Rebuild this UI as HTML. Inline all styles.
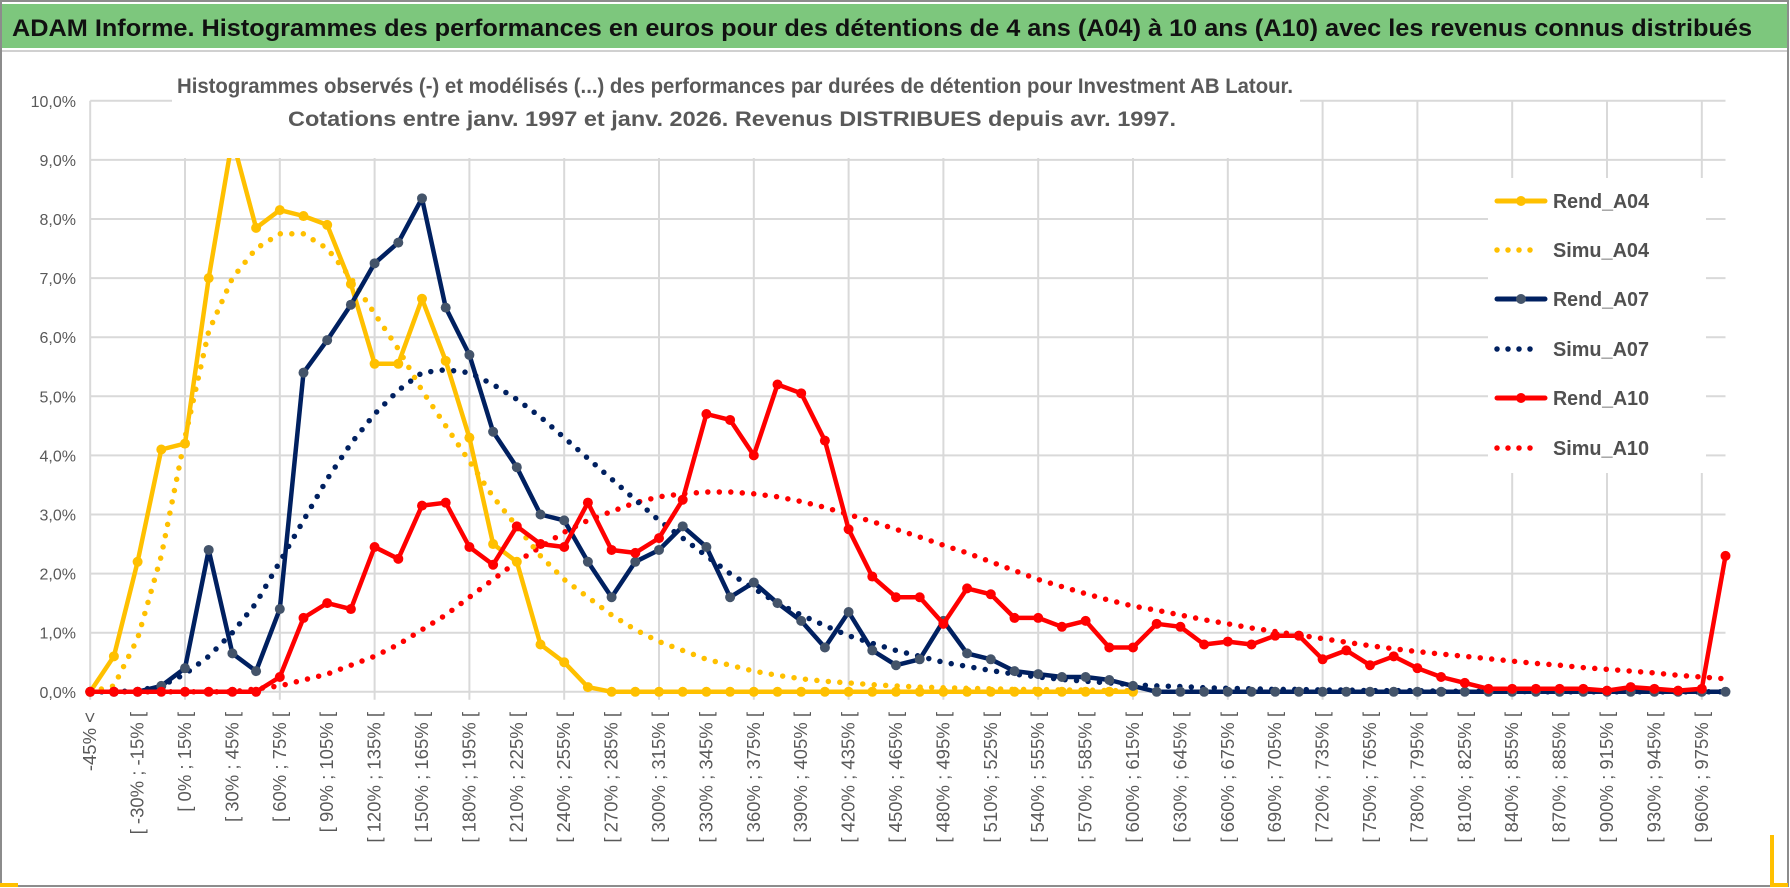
<!DOCTYPE html>
<html><head><meta charset="utf-8">
<style>
html,body{margin:0;padding:0;background:#fff;}
svg{display:block;font-family:"Liberation Sans",sans-serif;}
</style></head>
<body>
<svg id="chart" width="1790" height="888" viewBox="0 0 1790 888">
  <rect x="1" y="1" width="1787" height="885" fill="#fff" stroke="#8c8c8c" stroke-width="2"/>
  <rect x="2" y="4" width="1785" height="44" fill="#7dc77d"/>
  <line x1="2" y1="51" x2="1787" y2="51" stroke="#d0d0d0" stroke-width="2"/>
  <text x="12" y="36" font-size="24" font-weight="bold" fill="#111" textLength="1740" lengthAdjust="spacingAndGlyphs">ADAM Informe. Histogrammes des performances en euros pour des détentions de 4 ans (A04) à 10 ans (A10) avec les revenus connus distribués</text>
  <g id="grid"></g>
  <g id="series"></g>
  <rect x="172" y="64" width="1128" height="94" fill="#fff"/>
  <text x="177" y="93" font-size="21" font-weight="bold" fill="#595959" textLength="1116" lengthAdjust="spacingAndGlyphs">Histogrammes observés (-) et modélisés (...) des performances par durées de détention pour Investment AB Latour.</text>
  <text x="288" y="126" font-size="21" font-weight="bold" fill="#595959" textLength="888" lengthAdjust="spacingAndGlyphs">Cotations entre janv. 1997 et janv. 2026. Revenus DISTRIBUES depuis avr. 1997.</text>
  <g id="yticks"></g>
  <g id="xticks"></g>
  <g id="legend"></g>
  <rect x="0" y="883" width="18" height="4" fill="#ffc000"/>
  <rect x="1770" y="835" width="4" height="50" fill="#ffc000"/>
  <rect x="1770" y="883" width="18" height="4" fill="#ffc000"/>
</svg>
<script>
const categoriesCount = 70;
const yTickValues = [0,1,2,3,4,5,6,7,8,9,10];
const rendA04 = [0,0.6,2.2,4.1,4.2,7.0,9.35,7.85,8.15,8.05,7.9,6.9,5.55,5.55,6.65,5.6,4.3,2.5,2.2,0.8,0.5,0.08,0,0,0,0,0,0,0,0,0,0,0,0,0,0,0,0,0,0,0,0,0,0,0];
const simuA04 = [0,0.1,0.9,2.3,4.3,6.1,7.0,7.5,7.75,7.75,7.5,7.0,6.4,5.8,5.1,4.5,3.9,3.3,2.8,2.3,1.9,1.6,1.3,1.05,0.85,0.7,0.55,0.45,0.35,0.28,0.22,0.18,0.15,0.12,0.1,0.08,0.07,0.06,0.05,0.04,0.04,0.03,0.03,0.02,0.02];
const rendA07 = [0,0,0,0.1,0.4,2.4,0.65,0.35,1.4,5.4,5.95,6.55,7.25,7.6,8.35,6.5,5.7,4.4,3.8,3.0,2.9,2.2,1.6,2.2,2.4,2.8,2.45,1.6,1.85,1.5,1.2,0.75,1.35,0.7,0.45,0.55,1.2,0.65,0.55,0.35,0.3,0.25,0.25,0.2,0.1,0,0,0,0,0,0,0,0,0,0,0,0,0,0,0,0,0,0,0,0,0,0,0,0,0];
const simuA07 = [0,0,0.02,0.1,0.3,0.6,1.0,1.5,2.2,2.9,3.6,4.2,4.7,5.1,5.4,5.45,5.4,5.2,4.95,4.65,4.3,3.95,3.6,3.25,2.9,2.6,2.3,2.0,1.75,1.5,1.3,1.12,0.95,0.82,0.7,0.6,0.5,0.43,0.36,0.3,0.25,0.21,0.18,0.15,0.12,0.1,0.09,0.07,0.06,0.05,0.04,0.04,0.03,0.03,0.02,0.02,0.02,0.01,0.01,0.01,0.01,0,0,0,0,0,0,0,0,0];
const rendA10 = [0,0,0,0,0,0,0,0,0.25,1.25,1.5,1.4,2.45,2.25,3.15,3.2,2.45,2.15,2.8,2.5,2.45,3.2,2.4,2.35,2.6,3.25,4.7,4.6,4.0,5.2,5.05,4.25,2.75,1.95,1.6,1.6,1.15,1.75,1.65,1.25,1.25,1.1,1.2,0.75,0.75,1.15,1.1,0.8,0.85,0.8,0.95,0.95,0.55,0.7,0.45,0.6,0.4,0.25,0.15,0.05,0.05,0.05,0.05,0.05,0.02,0.08,0.05,0.02,0.05,2.3];
const simuA10 = [0,0,0,0,0,0,0,0.05,0.1,0.2,0.3,0.45,0.6,0.8,1.05,1.3,1.6,1.9,2.2,2.45,2.7,2.9,3.05,3.2,3.3,3.35,3.38,3.38,3.35,3.3,3.22,3.12,3.0,2.88,2.75,2.62,2.48,2.35,2.2,2.05,1.9,1.78,1.66,1.55,1.45,1.38,1.3,1.22,1.15,1.08,1.02,0.96,0.9,0.84,0.78,0.73,0.68,0.64,0.6,0.56,0.52,0.48,0.45,0.41,0.38,0.35,0.32,0.28,0.25,0.22];
const seriesNames = ["Rend_A04","Simu_A04","Rend_A07","Simu_A07","Rend_A10","Simu_A10"];

const NS = "http://www.w3.org/2000/svg";
const X0 = 90.2, DX = 23.7, Y0 = 691.8, DY = 59.1;
function xScale(i){ return X0 + i*DX; }
function yScale(v){ return Y0 - v*DY; }
function mk(tag, attrs, parent){ const e=document.createElementNS(NS,tag); for(const k in attrs) e.setAttribute(k,attrs[k]); parent.appendChild(e); return e; }

const grid = document.getElementById('grid');
const xEnd = xScale(categoriesCount-1);
yTickValues.forEach(v=>{
  const l = mk('line',{x1:X0,x2:xEnd,y1:yScale(v),y2:yScale(v),stroke:'#d9d9d9','stroke-width':2},grid);
  
  
});
for(let i=0;i<categoriesCount;i+=4){
  const l = mk('line',{x1:xScale(i),x2:xScale(i),y1:yScale(10),y2:Y0+8,stroke:'#d9d9d9','stroke-width':2},grid);
  
  
}
const yt = document.getElementById('yticks');
yTickValues.forEach(v=>{
  const t = mk('text',{x:76,y:yScale(v)+6,'text-anchor':'end','font-size':16,fill:'#595959'},yt);
  t.textContent = v.toFixed(1).replace('.',',')+'%';
  
  
});
const xt = document.getElementById('xticks');
for(let i=0;i<categoriesCount;i+=2){
  let lab;
  if(i===0) lab='-45% <';
  else { const a=-45+15*(i-1); lab='[ '+a+'% ; '+(a+15)+'% ['; }
  const x = xScale(i)+6, y = 712;
  const t = mk('text',{x:x,y:y,'text-anchor':'end','font-size':18.5,fill:'#595959',transform:'rotate(-90 '+x+' '+y+')'},xt);
  t.textContent = lab;
  
  
}

const sg = document.getElementById('series');
function pathOf(arr){ return arr.map((v,i)=>(i?'L':'M')+xScale(i).toFixed(1)+' '+yScale(v).toFixed(1)).join(' '); }
function drawDotted(arr,color,name){
  const p = mk('path',{d:pathOf(arr),fill:'none',stroke:color,'stroke-width':5.5,'stroke-linecap':'round','stroke-dasharray':'0 11.5'},sg);
  
  
}
function drawSolid(arr,color,mcolor,name){
  const p = mk('path',{d:pathOf(arr),fill:'none',stroke:color,'stroke-width':4.5,'stroke-linejoin':'round'},sg);
  
  
  arr.forEach((v,i)=>{
    const c = mk('circle',{cx:xScale(i),cy:yScale(v),r:5,fill:mcolor},sg);
    
    
  });
}
drawDotted(simuA10,'#ff0000','simu-a10-line');
drawDotted(simuA07,'#002060','simu-a07-line');
drawDotted(simuA04,'#ffc000','simu-a04-line');
drawSolid(rendA04,'#ffc000','#ffc000','rend-a04-line');
drawSolid(rendA07,'#002060','#44546a','rend-a07-line');
drawSolid(rendA10,'#ff0000','#ff0000','rend-a10-line');

const lg = document.getElementById('legend');
mk('rect',{x:1488,y:178,width:218,height:295,fill:'#fff'},lg);
const legendY = [201,250,299,349,398,448];
const legendStyle = [['#ffc000','#ffc000',false],['#ffc000',null,true],['#002060','#44546a',false],['#002060',null,true],['#ff0000','#ff0000',false],['#ff0000',null,true]];
seriesNames.forEach((n,k)=>{
  const y = legendY[k], st = legendStyle[k];
  const g = mk('g',{},lg);
  
  
  if(st[2]){
    mk('line',{x1:1497,x2:1540,y1:y,y2:y,stroke:st[0],'stroke-width':5.5,'stroke-linecap':'round','stroke-dasharray':'0 11'},g);
  } else {
    mk('line',{x1:1497,x2:1545,y1:y,y2:y,stroke:st[0],'stroke-width':5,'stroke-linecap':'round'},g);
    mk('circle',{cx:1521,cy:y,r:5,fill:st[1]},g);
  }
  const t = mk('text',{x:1553,y:y+7,'font-size':20,'font-weight':'bold',fill:'#505050',textLength:96,lengthAdjust:'spacingAndGlyphs'},g);
  t.textContent = n;
});
</script>
</body></html>
